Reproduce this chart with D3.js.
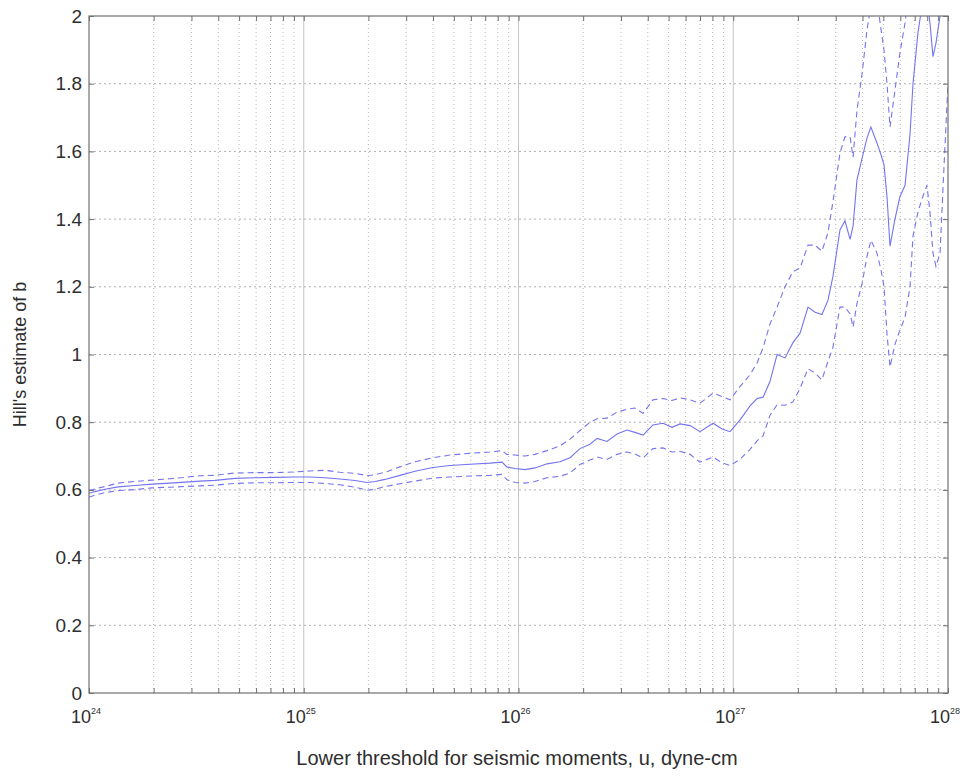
<!DOCTYPE html>
<html>
<head>
<meta charset="utf-8">
<script src="https://cdn.jsdelivr.net/npm/d3@7"></script>
<style>
  html, body { margin: 0; padding: 0; background: #fff; }
  svg { display: block; font-family: "Liberation Sans", Arial, Helvetica, sans-serif; }
</style>
</head>
<body>
<svg id="chart" width="970" height="777"></svg>
<script>
// log10 of the lower threshold u (dyne-cm)
const logMoment = [
  24.000, 24.028, 24.075, 24.135, 24.214, 24.293, 24.377, 24.447, 24.517, 24.587,
  24.680, 24.773, 24.866, 24.959, 25.029, 25.099, 25.169, 25.239, 25.295, 25.332,
  25.378, 25.448, 25.518, 25.602, 25.681, 25.774, 25.867, 25.923, 25.946, 25.984,
  26.030, 26.077, 26.133, 26.193, 26.240, 26.286, 26.333, 26.366, 26.412, 26.459,
  26.505, 26.542, 26.580, 26.626, 26.673, 26.715, 26.752, 26.799, 26.845, 26.906,
  26.948, 26.985, 27.031, 27.078, 27.111, 27.139, 27.171, 27.204, 27.241, 27.278,
  27.311, 27.348, 27.381, 27.413, 27.441, 27.464, 27.497, 27.520, 27.544, 27.558,
  27.576, 27.600, 27.623, 27.641, 27.669, 27.688, 27.702, 27.716, 27.730, 27.753,
  27.776, 27.800, 27.823, 27.837, 27.860, 27.879, 27.902, 27.916, 27.930, 27.944,
  27.963, 27.981, 28.000
];

// Hill's estimate of b
const hillEstimate = [
  0.590, 0.595, 0.602, 0.609, 0.613, 0.617, 0.620, 0.623, 0.626, 0.628,
  0.634, 0.636, 0.637, 0.638, 0.638, 0.636, 0.632, 0.628, 0.622, 0.625,
  0.631, 0.643, 0.655, 0.666, 0.672, 0.676, 0.679, 0.682, 0.668, 0.663,
  0.660, 0.665, 0.677, 0.683, 0.695, 0.722, 0.735, 0.752, 0.743, 0.765,
  0.777, 0.770, 0.762, 0.792, 0.797, 0.785, 0.795, 0.790, 0.772, 0.797,
  0.780, 0.772, 0.806, 0.848, 0.870, 0.874, 0.920, 1.000, 0.990, 1.035,
  1.063, 1.140, 1.125, 1.118, 1.160, 1.230, 1.368, 1.395, 1.340, 1.380,
  1.515, 1.580, 1.640, 1.672, 1.625, 1.590, 1.560, 1.466, 1.320, 1.400,
  1.466, 1.500, 1.650, 1.800, 1.950, 2.030, 2.050, 1.980, 1.880, 1.920,
  2.000, 2.100, 2.200
];

// upper confidence bound
const upperBound = [
  0.598, 0.603, 0.610, 0.620, 0.625, 0.629, 0.633, 0.637, 0.642, 0.643,
  0.650, 0.651, 0.651, 0.653, 0.656, 0.658, 0.652, 0.649, 0.642, 0.645,
  0.652, 0.668, 0.683, 0.695, 0.703, 0.708, 0.712, 0.716, 0.705, 0.703,
  0.700, 0.705, 0.716, 0.730, 0.750, 0.775, 0.800, 0.810, 0.812, 0.830,
  0.838, 0.842, 0.826, 0.866, 0.870, 0.864, 0.872, 0.866, 0.856, 0.886,
  0.876, 0.866, 0.905, 0.940, 0.975, 1.020, 1.090, 1.140, 1.200, 1.245,
  1.255, 1.323, 1.323, 1.305, 1.360, 1.450, 1.595, 1.643, 1.643, 1.583,
  1.720, 1.830, 1.960, 2.030, 2.050, 1.960, 1.900, 1.800, 1.672, 1.780,
  1.890, 1.980, 2.100, 2.200, 2.350, 2.450, 2.500, 2.450, 2.350, 2.400,
  2.500, 2.600, 2.700
];

// lower confidence bound
const lowerBound = [
  0.578, 0.585, 0.592, 0.598, 0.601, 0.606, 0.608, 0.610, 0.612, 0.614,
  0.619, 0.621, 0.621, 0.622, 0.622, 0.619, 0.615, 0.608, 0.599, 0.602,
  0.610, 0.618, 0.626, 0.635, 0.638, 0.641, 0.643, 0.646, 0.630, 0.622,
  0.620, 0.625, 0.636, 0.640, 0.650, 0.675, 0.688, 0.697, 0.690, 0.705,
  0.712, 0.706, 0.694, 0.722, 0.724, 0.712, 0.714, 0.705, 0.682, 0.697,
  0.680, 0.672, 0.690, 0.720, 0.745, 0.760, 0.820, 0.852, 0.850, 0.860,
  0.900, 0.958, 0.945, 0.925, 0.980, 1.020, 1.140, 1.140, 1.120, 1.081,
  1.150, 1.210, 1.290, 1.338, 1.300, 1.250, 1.200, 1.060, 0.963, 1.030,
  1.072, 1.110, 1.200, 1.350, 1.420, 1.460, 1.500, 1.420, 1.300, 1.260,
  1.300, 1.550, 1.800
];

const yTicks = [0, 0.2, 0.4, 0.6, 0.8, 1, 1.2, 1.4, 1.6, 1.8, 2];
const decadeExponents = [24, 25, 26, 27, 28];

const margin = { left: 89, top: 16, right: 22, bottom: 84 };
const W = 970, H = 777;
const iw = W - margin.left - margin.right;
const ih = H - margin.top - margin.bottom;

const textColor = "#2e2e2e";
const svg = d3.select("#chart");
const g = svg.append("g").attr("transform", `translate(${margin.left},${margin.top})`);

const x = d3.scaleLog().domain([1e24, 1e28]).range([0, iw]);
const y = d3.scaleLinear().domain([0, 2]).range([ih, 0]);

// minor + major tick positions on the log axis
const allXTicks = x.ticks();
const isDecade = v => Math.abs(Math.log10(v) - Math.round(Math.log10(v))) < 1e-9;

// grid
const grid = g.append("g");
grid.selectAll("line.xg").data(allXTicks.filter(v => !isDecade(v)))
  .join("line")
  .attr("x1", d => x(d)).attr("x2", d => x(d))
  .attr("y1", 0).attr("y2", ih)
  .attr("stroke", "#b8b8b8").attr("stroke-width", 1)
  .attr("stroke-dasharray", "1,3");
grid.selectAll("line.xd").data(decadeExponents.slice(1, -1))
  .join("line")
  .attr("x1", d => x(Math.pow(10, d))).attr("x2", d => x(Math.pow(10, d)))
  .attr("y1", 0).attr("y2", ih)
  .attr("stroke", "#c4c4c4").attr("stroke-width", 1);
grid.selectAll("line.yg").data(yTicks.slice(1, -1))
  .join("line")
  .attr("x1", 0).attr("x2", iw)
  .attr("y1", d => y(d)).attr("y2", d => y(d))
  .attr("stroke", "#b0b0b0").attr("stroke-width", 1)
  .attr("stroke-dasharray", "2,3");

// data lines, clipped to the plot box
svg.append("defs").append("clipPath").attr("id", "plotClip")
  .append("rect").attr("width", iw).attr("height", ih);

const lineGen = vals => d3.line()
  .x((d, i) => x(Math.pow(10, logMoment[i])))
  .y(d => y(d))(vals);

const lines = g.append("g").attr("clip-path", "url(#plotClip)");
const blue = "#7474ef";
lines.append("path").attr("d", lineGen(upperBound))
  .attr("fill", "none").attr("stroke", blue).attr("stroke-width", 1.1)
  .attr("stroke-dasharray", "6,4");
lines.append("path").attr("d", lineGen(lowerBound))
  .attr("fill", "none").attr("stroke", blue).attr("stroke-width", 1.1)
  .attr("stroke-dasharray", "6,4");
lines.append("path").attr("d", lineGen(hillEstimate))
  .attr("fill", "none").attr("stroke", blue).attr("stroke-width", 1.1);

// axes (inward ticks, mirrored)
const axisColor = "#707070";
const tickLen = 5;
const yAxisL = g.append("g").call(d3.axisLeft(y).tickValues(yTicks).tickSizeInner(-tickLen).tickSizeOuter(0)
  .tickPadding(7).tickFormat(d3.format("~g")));
const yAxisR = g.append("g").attr("transform", `translate(${iw},0)`)
  .call(d3.axisRight(y).tickValues(yTicks).tickSizeInner(-tickLen).tickSizeOuter(0).tickFormat(""));
const xAxisB = g.append("g").attr("transform", `translate(0,${ih})`)
  .call(d3.axisBottom(x).tickValues(allXTicks).tickSizeInner(-tickLen).tickSizeOuter(0).tickFormat(""));
const xAxisT = g.append("g")
  .call(d3.axisTop(x).tickValues(allXTicks).tickSizeInner(-tickLen).tickSizeOuter(0).tickFormat(""));

[yAxisL, yAxisR, xAxisB, xAxisT].forEach(a => {
  a.select(".domain").remove();
  a.selectAll(".tick line").attr("stroke", axisColor);
});
yAxisL.selectAll(".tick text")
  .attr("fill", textColor).attr("font-size", 19)
  .attr("font-family", "'Liberation Sans', Arial, sans-serif");

// box
g.append("rect").attr("width", iw).attr("height", ih)
  .attr("fill", "none").attr("stroke", axisColor).attr("stroke-width", 1.2);

// decade labels 10^n
const xl = g.append("g").attr("transform", `translate(0,${ih})`);
decadeExponents.forEach(e => {
  const t = xl.append("text")
    .attr("x", x(Math.pow(10, e)) - 3).attr("y", 30)
    .attr("text-anchor", "middle").attr("fill", textColor).attr("font-size", 18);
  t.append("tspan").text("10");
  t.append("tspan").attr("dy", -9).attr("font-size", 9).text(String(e));
});

// axis titles
svg.append("text")
  .attr("x", 517).attr("y", 765)
  .attr("text-anchor", "middle").attr("fill", textColor).attr("font-size", 20)
  .text("Lower threshold for seismic moments, u, dyne-cm");
svg.append("text")
  .attr("transform", `translate(26,${margin.top + ih / 2}) rotate(-90)`)
  .attr("text-anchor", "middle").attr("fill", textColor).attr("font-size", 18)
  .text("Hill's estimate of b");
</script>
</body>
</html>
